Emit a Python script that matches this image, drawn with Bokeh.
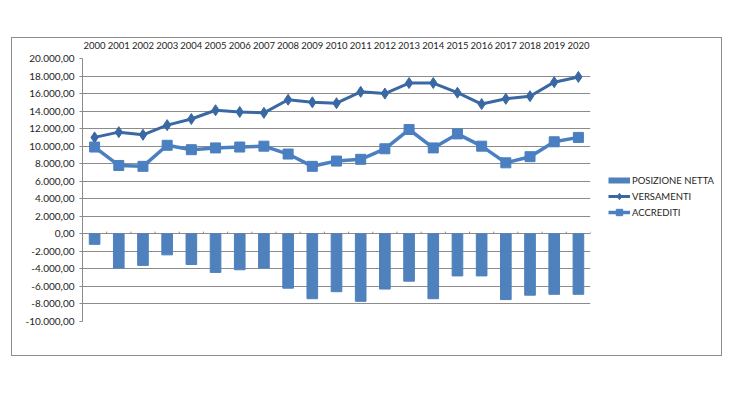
from bokeh.plotting import figure
from bokeh.models import (Range1d, FixedTicker, Legend, LegendItem, ColumnDataSource)
from bokeh.embed import file_html
from bokeh.resources import INLINE

years = [str(y) for y in range(2000, 2021)]
posizione_netta = [-1200, -3900, -3600, -2400, -3500, -4400, -4100, -3900, -6200, -7400,
                   -6600, -7700, -6300, -5400, -7400, -4800, -4800, -7500, -7000, -6900, -6900]
versamenti = [11000, 11600, 11300, 12400, 13100, 14100, 13900, 13800, 15300, 15000,
              14900, 16200, 16000, 17200, 17200, 16100, 14800, 15400, 15700, 17300, 17900]
accrediti = [9900, 7800, 7700, 10100, 9600, 9800, 9900, 10000, 9100, 7700,
             8300, 8500, 9700, 11900, 9800, 11400, 10000, 8100, 8800, 10500, 11000]
y_ticks = list(range(-10000, 20001, 2000))

FONT = "Lato"
TXT = "#1e1e1e"
GRID = "#8c8c8c"
C_BAR = "#4f81bd"
C_VER = "#3a68a3"
C_ACC = "#4a7fc1"

def fmt(v):
    s = f"{abs(v):,}".replace(",", ".")
    return ("-" if v < 0 else "") + s + ",00"

xs = [i + 0.5 for i in range(len(years))]

p = figure(width=709, height=317, frame_width=508, frame_height=263, max_width=709,
           output_backend="svg", toolbar_location=None,
           x_range=Range1d(0, len(years)), y_range=Range1d(-10000, 20000),
           x_axis_location="above",
           min_border_left=70, min_border_right=131, min_border_top=20, min_border_bottom=34,
           margin=(38, 0, 0, 12),
           styles={"outline": "1.5px solid #8c8c8c", "max-width": "709px", "overflow": "hidden"})
p.outline_line_color = None
p.background_fill_color = "white"
p.border_fill_color = "white"
# off-screen range used only for the legend swatch of the bar series
p.extra_y_ranges = {"legend_proxy": Range1d(1e7, 2e7)}

# axes
xa = p.xaxis[0]
xa.ticker = FixedTicker(ticks=xs)
xa.major_label_overrides = {x: y for x, y in zip(xs, years)}
xa.axis_line_color = None
xa.major_tick_line_color = None
xa.minor_tick_line_color = None
xa.major_label_text_font = FONT
xa.major_label_text_font_size = "9.5px"
xa.major_label_text_color = TXT
xa.major_label_standoff = 4

ya = p.yaxis[0]
ya.ticker = FixedTicker(ticks=y_ticks)
ya.major_label_overrides = {v: fmt(v) for v in y_ticks}
ya.axis_line_color = GRID
ya.major_tick_line_color = GRID
ya.major_tick_out = 3
ya.major_tick_in = 0
ya.minor_tick_line_color = None
ya.major_label_text_font = FONT
ya.major_label_text_font_size = "10px"
ya.major_label_text_color = TXT
ya.major_label_standoff = 5

p.xgrid.grid_line_color = None
p.ygrid.grid_line_color = GRID
p.ygrid.grid_line_width = 1

# category boundary ticks at zero line
bounds = list(range(len(years) + 1))
tsrc = ColumnDataSource(dict(x=bounds, y0=[0] * len(bounds), y1=[250] * len(bounds)))
p.segment(x0="x", y0="y0", x1="x", y1="y1", source=tsrc, line_color=GRID, line_width=1)

bars = p.vbar(x=xs, top=posizione_netta, bottom=0, width=0.44,
              fill_color=C_BAR, line_color=C_BAR)
l1 = p.line(xs, versamenti, line_color=C_VER, line_width=3)
m1 = p.scatter(xs, versamenti, marker="diamond", size=11, fill_color=C_VER, line_color=C_VER)
l2 = p.line(xs, accrediti, line_color=C_ACC, line_width=3.5)
m2 = p.scatter(xs, accrediti, marker="square", size=10, fill_color=C_ACC, line_color=C_ACC)

# legend swatch for the bar series (thin wide rectangle as in the original)
bar_key = p.line(xs, posizione_netta, y_range_name="legend_proxy",
                 line_color=C_BAR, line_width=6, line_cap="butt")

legend = Legend(items=[
    LegendItem(label="POSIZIONE NETTA", renderers=[bar_key]),
    LegendItem(label="VERSAMENTI", renderers=[l1, m1]),
    LegendItem(label="ACCREDITI", renderers=[l2, m2]),
], location=(18, 101))
legend.border_line_color = None
legend.background_fill_alpha = 0
legend.label_text_font = FONT
legend.label_text_font_size = "9.5px"
legend.label_text_color = TXT
legend.glyph_width = 22
legend.glyph_height = 16
legend.label_height = 12
legend.spacing = 0
legend.label_standoff = 2
legend.padding = 0
legend.margin = 0
p.add_layout(legend, "right")

open("out.html", "w").write(file_html(p, INLINE))
